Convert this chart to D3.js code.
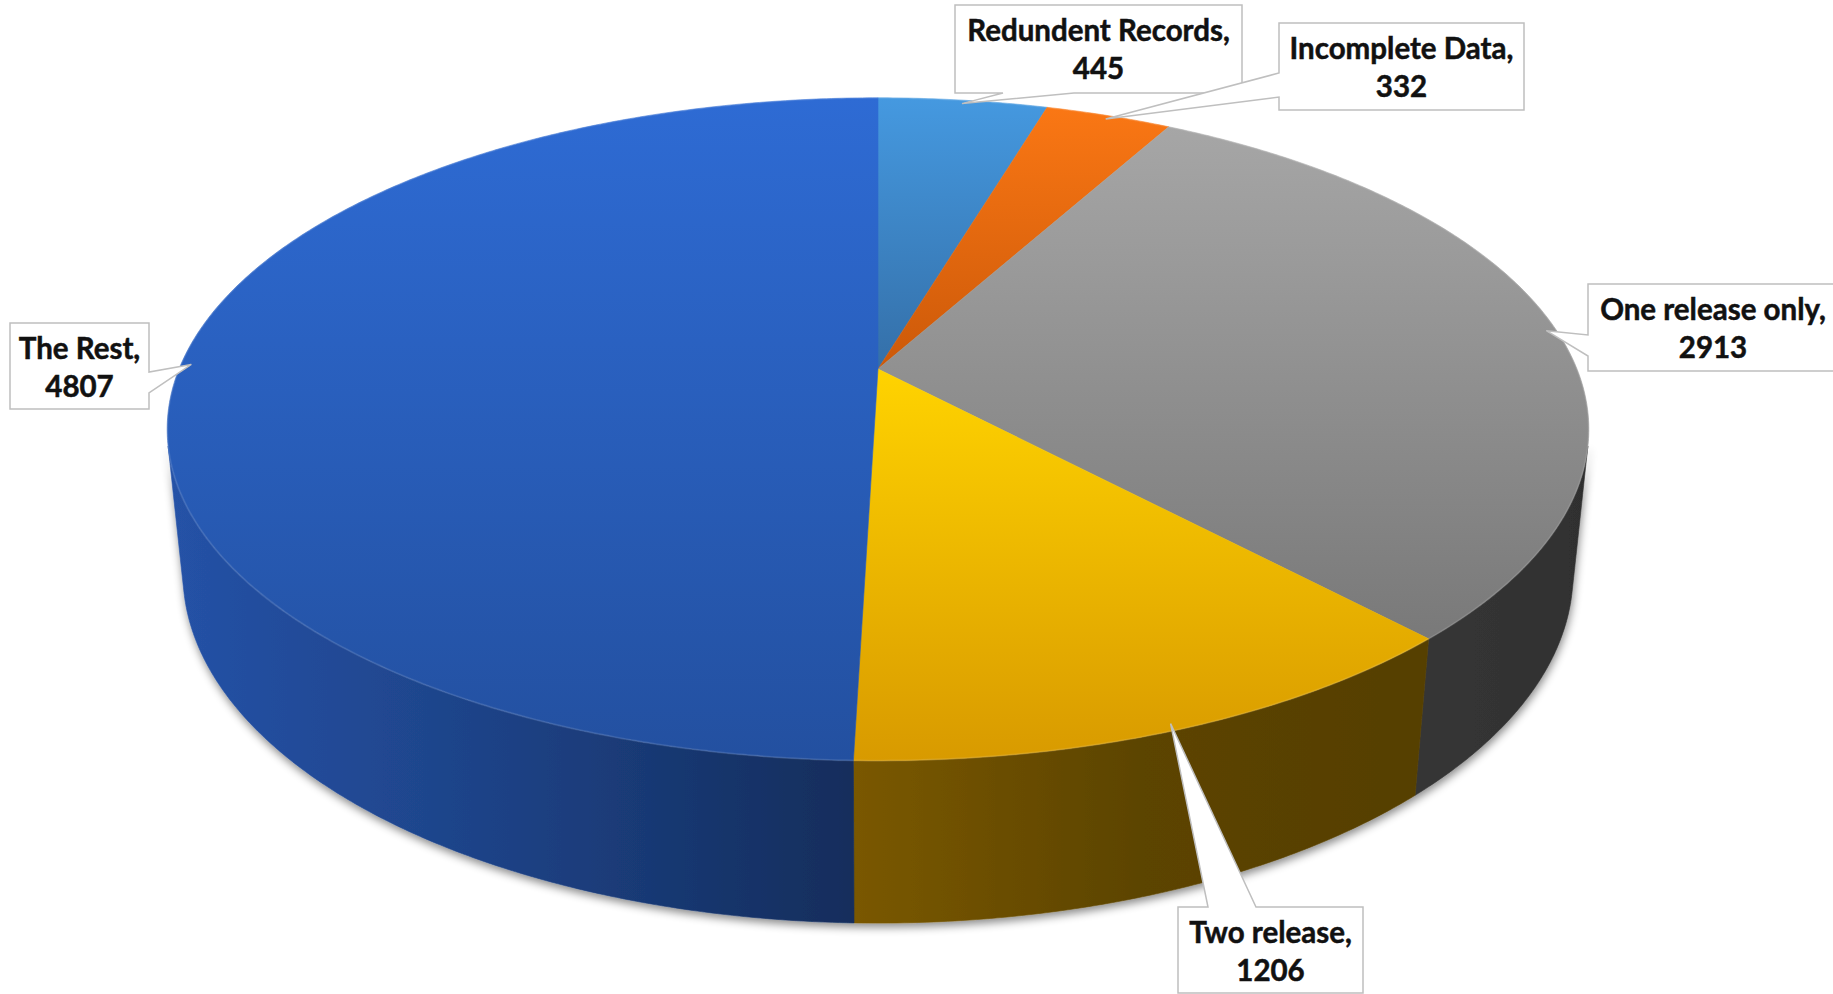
<!DOCTYPE html>
<html>
<head>
<meta charset="utf-8">
<script src="https://cdn.jsdelivr.net/npm/d3@7"></script>
<style>
  html, body { margin: 0; padding: 0; background: #ffffff; }
  svg { display: block; }
</style>
</head>
<body>
<svg id="chart" width="1833" height="994"></svg>
<script>
// ---- data ----
const categories = ["Redundent Records", "Incomplete Data", "One release only", "Two release", "The Rest"];
const values = [445, 332, 2913, 1206, 4807];

// ---- styles ----
const topFill = [
  ["#4599E0", "#346FA8"],
  ["#FA7714", "#CC5909"],
  ["#A6A6A6", "#797979"],
  ["#FFD300", "#D89A00"],
  ["#2E6BD4", "#2350A0"]
];
const sideFill = [
  ["#346FA8", "#2B5E90", "#23507A"],
  ["#B0510A", "#9A4608", "#8A3E06"],
  ["#363636", "#333333", "#2F2F2F"],
  ["#7A5800", "#5C4400", "#563F00"],
  ["#2552A7", "#1D4184", "#132D5C"]
];

// ---- layout: callout boxes (box corners, pointer edge and pointer base range) ----
const callouts = [
  { box: [955, 5, 1242, 93],    edge: "bottom", base: [1003, 1074] },
  { box: [1279, 23, 1524, 110], edge: "left",   base: [73, 97] },
  { box: [1588, 284, 1838, 371], edge: "left",  base: [335, 356] },
  { box: [1178, 907, 1363, 993], edge: "top",   base: [1208, 1256] },
  { box: [10, 323, 149, 409],   edge: "right",  base: [372, 393] }
];

const svg = d3.select("#chart");
const defs = svg.append("defs");

// ---- perspective projection of a flat disc (radius 1) tilted toward the viewer ----
const cx = 878, cy = 369, focal = 3418, camDist = 4.89;
const elev = Math.asin(0.4585);
const se = Math.sin(elev), ce = Math.cos(elev);
const thickness = 0.2335;

function project(a, y, r = 1) {
  const X = r * Math.sin(a), Z = r * Math.cos(a);
  const yc = y * ce + Z * se;
  const zc = camDist - y * se + Z * ce;
  return [cx + focal * X / zc, cy - focal * yc / zc];
}
function rim(a0, a1, y) {
  const n = Math.max(2, Math.ceil(Math.abs(a1 - a0) / (Math.PI / 360)));
  return d3.range(n + 1).map(i => project(a0 + (a1 - a0) * i / n, y));
}

// the outer wall is visible where its normal faces the camera
const visLo = Math.acos(-1 / (camDist * ce));
const visHi = 2 * Math.PI - visLo;

const pie = d3.pie().sort(null).value(d => d).startAngle(0).endAngle(2 * Math.PI);
const arcs = pie(values);
const line = d3.line();

// ---- gradients ----
arcs.forEach((d, i) => {
  const g = defs.append("linearGradient").attr("id", "top" + i)
    .attr("x1", 0).attr("y1", 0).attr("x2", 0).attr("y2", 1);
  g.append("stop").attr("offset", "0%").attr("stop-color", topFill[i][0]);
  g.append("stop").attr("offset", "100%").attr("stop-color", topFill[i][1]);
});

const shadow = defs.append("filter").attr("id", "shadow")
  .attr("x", "-10%").attr("y", "-10%").attr("width", "120%").attr("height", "130%");
shadow.append("feDropShadow").attr("dx", 1).attr("dy", 4).attr("stdDeviation", 4)
  .attr("flood-color", "#000").attr("flood-opacity", 0.45);

// ---- outer walls ----
const sides = svg.append("g").attr("filter", "url(#shadow)");
arcs.forEach((d, i) => {
  const a0 = Math.max(d.startAngle, visLo), a1 = Math.min(d.endAngle, visHi);
  if (a1 <= a0) return;
  const top = rim(a0, a1, 0);
  const bottom = rim(a1, a0, -thickness);
  const pts = top.concat(bottom);
  const xs = pts.map(p => p[0]);
  const g = defs.append("linearGradient").attr("id", "side" + i)
    .attr("gradientUnits", "userSpaceOnUse")
    .attr("x1", d3.min(xs)).attr("y1", 0).attr("x2", d3.max(xs)).attr("y2", 0);
  g.append("stop").attr("offset", "0%").attr("stop-color", sideFill[i][0]);
  g.append("stop").attr("offset", "50%").attr("stop-color", sideFill[i][1]);
  g.append("stop").attr("offset", "100%").attr("stop-color", sideFill[i][2]);
  sides.append("path")
    .attr("d", line(pts) + "Z")
    .attr("fill", `url(#side${i})`)
    .attr("stroke", `url(#side${i})`).attr("stroke-width", 0.6);
});

// ---- top faces ----
const tops = svg.append("g");
arcs.forEach((d, i) => {
  const pts = [project(0, 0, 0)].concat(rim(d.startAngle, d.endAngle, 0));
  tops.append("path")
    .attr("d", line(pts) + "Z")
    .attr("fill", `url(#top${i})`)
    .attr("stroke", `url(#top${i})`).attr("stroke-width", 0.6);
  // soft bevel along the rim
  tops.append("path")
    .attr("d", line(rim(d.startAngle, d.endAngle, 0)))
    .attr("fill", "none")
    .attr("stroke", "#ffffff").attr("stroke-opacity", 0.1).attr("stroke-width", 2);
});

// ---- data labels with callout pointers ----
function calloutPath(c, tip) {
  const [x0, y0, x1, y1] = c.box, [b0, b1] = c.base;
  const p = [[x0, y0]];
  if (c.edge === "top") p.push([b0, y0], tip, [b1, y0]);
  p.push([x1, y0]);
  if (c.edge === "right") p.push([x1, b0], tip, [x1, b1]);
  p.push([x1, y1]);
  if (c.edge === "bottom") p.push([b1, y1], tip, [b0, y1]);
  p.push([x0, y1]);
  if (c.edge === "left") p.push([x0, b1], tip, [x0, b0]);
  return line(p) + "Z";
}

const labels = svg.append("g");
arcs.forEach((d, i) => {
  const c = callouts[i];
  const mid = (d.startAngle + d.endAngle) / 2;
  const tip = project(mid, 0, 0.985);
  labels.append("path")
    .attr("d", calloutPath(c, tip))
    .attr("fill", "#ffffff")
    .attr("stroke", "#BFBFBF").attr("stroke-width", 1.5)
    .attr("stroke-linejoin", "miter");
  const tx = (c.box[0] + c.box[2]) / 2;
  const t = labels.append("text")
    .attr("text-anchor", "middle")
    .attr("font-family", "Lato, 'Open Sans', sans-serif")
    .attr("font-weight", 700).attr("font-size", 29.5)
    .attr("fill", "#111111")
    .attr("stroke", "#111111").attr("stroke-width", 0.5);
  t.append("tspan").attr("x", tx).attr("y", c.box[1] + 36).text(categories[i] + ",");
  t.append("tspan").attr("x", tx).attr("y", c.box[1] + 74).text(d3.format("d")(d.data));
});
</script>
</body>
</html>
